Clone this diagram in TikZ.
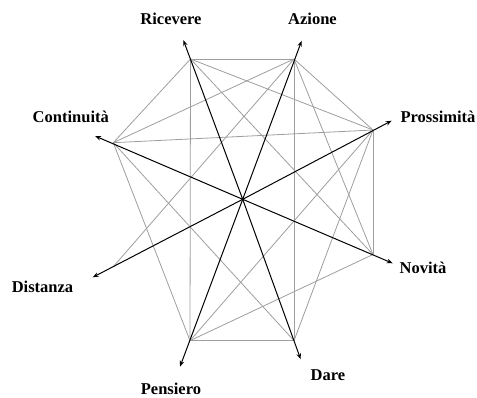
\documentclass[tikz,border=0pt]{standalone}
\usepackage{fontspec}
\setmainfont{Liberation Serif}
\usetikzlibrary{arrows.meta}
\begin{document}
\begin{tikzpicture}[x=1pt, y=-1pt,
    edge/.style={draw=black!38, line width=0.8pt},
    axis/.style={draw=black, line width=1pt, -{Stealth[length=6pt, width=4.5pt]}},
    lab/.style={anchor=base, inner sep=0, font=\fontsize{16.5}{18}\selectfont\bfseries}]
    \useasboundingbox (0,0) rectangle (477,398);
    % vertices
    \coordinate (ric) at (190.5,59);
    \coordinate (azi) at (294,59);
    \coordinate (pro) at (373,130);
    \coordinate (nov) at (373,254.5);
    \coordinate (dar) at (294,340.7);
    \coordinate (pen) at (190,340.7);
    \coordinate (dis) at (113.3,266.7);
    \coordinate (con) at (113.3,142.7);
    \node[inner sep=0] (o) at (242.7,199.3) {};
    % arrow ends
    \coordinate (tric) at (183.3,40);
    \coordinate (tazi) at (301.7,40.7);
    \coordinate (tpro) at (391.7,120.7);
    \coordinate (tnov) at (392.7,263.3);
    \coordinate (tdar) at (300.7,359.3);
    \coordinate (tpen) at (180,366.7);
    \coordinate (tdis) at (92.7,277.3);
    \coordinate (tcon) at (95,136);
    % gray links
    \draw[edge] (ric) -- (azi);
    \draw[edge] (ric) -- (con);
    \draw[edge] (ric) -- (pen);
    \draw[edge] (ric) -- (pro);
    \draw[edge] (ric) -- (nov);
    \draw[edge] (azi) -- (con);
    \draw[edge] (azi) -- (dis);
    \draw[edge] (azi) -- (pro);
    \draw[edge] (azi) -- (nov);
    \draw[edge] (azi) -- (dar);
    \draw[edge] (pro) -- (con);
    \draw[edge] (pro) -- (nov);
    \draw[edge] (pro) -- (pen);
    \draw[edge] (pro) -- (dar);
    \draw[edge] (nov) -- (pen);
    \draw[edge] (dar) -- (pen);
    \draw[edge] (dar) -- (con);
    \draw[edge] (pen) -- (con);
    % axes
    \draw[axis] (o.center) -- (tric);
    \draw[axis] (o.center) -- (tazi);
    \draw[axis] (o.center) -- (tpro);
    \draw[axis] (o.center) -- (tnov);
    \draw[axis] (o.center) -- (tdar);
    \draw[axis] (o.center) -- (tpen);
    \draw[axis] (o.center) -- (tdis);
    \draw[axis] (o.center) -- (tcon);
    % labels
    \node[lab] (lric) at (171,25) {Ricevere};
    \node[lab] (lazi) at (312.5,25) {Azione};
    \node[lab] (lpro) at (438,122.7) {Prossimità};
    \node[lab] (lcon) at (70.8,122.7) {Continuità};
    \node[lab] (lnov) at (423,274) {Novità};
    \node[lab] (ldis) at (42.5,293) {Distanza};
    \node[lab] (ldar) at (328,380) {Dare};
    \node[lab] (lpen) at (171,394) {Pensiero};
\end{tikzpicture}
\end{document}
